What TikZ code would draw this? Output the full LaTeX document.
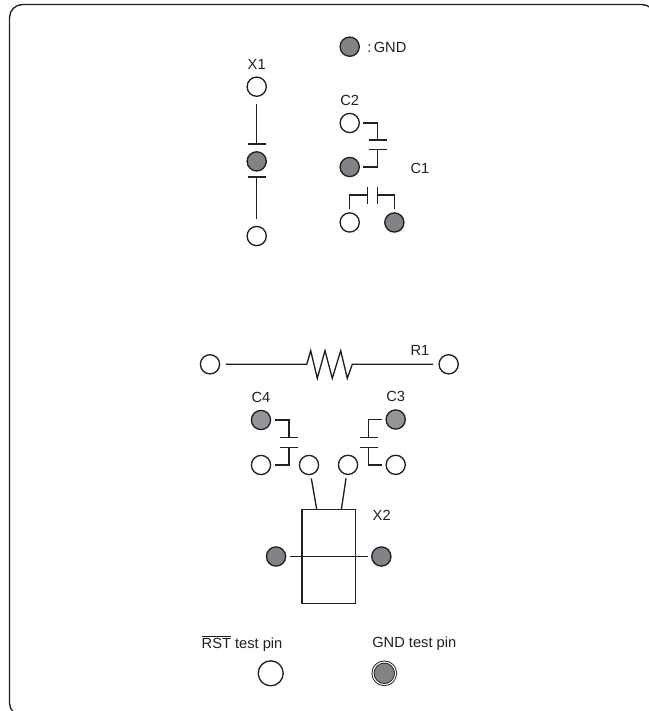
\documentclass[tikz,border=0pt]{standalone}
\usepackage{fontspec}
\setmainfont{Liberation Sans}
\definecolor{pingray}{HTML}{808488}
\definecolor{pinlight}{HTML}{939598}
\definecolor{inkgray}{HTML}{231F20}
\tikzset{%
  % Specifications for style of nodes:
        pin/.style = {circle, draw=inkgray, line width=1pt, fill=white,
                      inner sep=0pt, minimum size=14.4pt, outer sep=3pt},
    gndpin/.style = {pin, fill=pingray},
  lightpin/.style = {pin, fill=pinlight},
      label/.style = {font=\fontsize{11}{13}\selectfont, text=inkgray, inner sep=0pt},
       wire/.style = {draw=inkgray, line width=1pt},
}
\begin{document}
\begin{tikzpicture}[x=0.75pt, y=-0.75pt]
  \useasboundingbox (0,0) rectangle (649,711);
  % outer frame, runs off the page on the right and at the bottom
  \node (frame) [draw=inkgray, line width=1pt, rounded corners=9.75pt, inner sep=0pt,
                 minimum width=484.1pt, minimum height=533.6pt] at (332.25,360.25) {};

  % Specification of nodes (position, etc.)
  \node (legend)  [gndpin] at (349.7,46.7) {};
  \node (legendt) [label, anchor=west] at (367,47) {:\,GND};

  \node (x1top)   [pin] at (256.7,86.7) {};
  \node (x1gnd)   [gndpin, below of=x1top, node distance=56pt] {};
  \node (x1bot)   [pin, below of=x1gnd, node distance=56pt] {};
  \node (x1t)     [label, above of=x1top, node distance=17pt] {X1};

  \node (c2top)   [pin] at (349.7,123) {};
  \node (c2gnd)   [gndpin, below of=c2top, node distance=33pt] {};
  \node (c1a)     [pin, below of=c2gnd, node distance=41.6pt] {};
  \node (c1b)     [gndpin, right of=c1a, node distance=33.5pt] {};
  \node (c2t)     [label, above of=c2top, node distance=17pt] {C2};
  \node (c1t)     [label] at (420,168) {C1};

  \node (r1a)     [pin] at (210,364.3) {};
  \node (r1b)     [pin, right of=r1a, node distance=179pt] {};
  \node (r1t)     [label] at (420,350) {R1};

  \node (c4gnd)   [lightpin] at (261,420) {};
  \node (c4pin)   [pin, below of=c4gnd, node distance=33.75pt] {};
  \node (c3gnd)   [lightpin] at (395.7,419.5) {};
  \node (c3pin)   [pin, below of=c3gnd, node distance=34pt] {};
  \node (c4t)     [label, above of=c4gnd, node distance=17pt] {C4};
  \node (c3t)     [label, above of=c3gnd, node distance=17pt] {C3};

  \node (x2a)     [pin, right of=c4pin, node distance=36pt] {};
  \node (x2b)     [pin, left of=c3pin, node distance=35.75pt] {};
  \node (x2)      [draw=inkgray, line width=1pt, minimum width=40pt, minimum height=70.8pt,
                   inner sep=0pt, outer sep=0pt] at (328.7,556.5) {};
  \node (x2l)     [gndpin, left of=x2, node distance=39.5pt] {};
  \node (x2r)     [gndpin, right of=x2, node distance=39.5pt] {};
  \node (x2t)     [label] at (381.7,515) {X2};

  \node (rstpin)  [pin, minimum size=18.75pt] at (270.7,673.3) {};
  \node (gndtest) [gndpin, minimum size=17pt, double=white, double distance=0.8pt,
                   line width=0.7pt, right of=rstpin, node distance=85.2pt] {};
  \node (rstt)    [label, above of=rstpin, node distance=22.5pt, xshift=-21.5pt] {$\overline{\mbox{RST}}$ test pin};
  \node (gndt)    [label, above of=gndtest, node distance=22.5pt, xshift=22.5pt] {GND test pin};

  % plates of the capacitors and free ends
  \coordinate (x1p)  at (256.7,144);
  \coordinate (x1q)  at (256.7,177);
  \coordinate (c2p)  at (377.5,140);
  \coordinate (c2q)  at (377.5,149.3);
  \coordinate (c1p)  at (367.7,195);
  \coordinate (c1q)  at (377.3,195);
  \coordinate (c4p)  at (289,437.7);
  \coordinate (c4q)  at (289,447.3);
  \coordinate (c3p)  at (368.7,437.7);
  \coordinate (c3q)  at (368.7,447.3);
  \coordinate (x2ta) at ([xshift=-9pt]x2.north);
  \coordinate (x2tb) at ([xshift=9.5pt]x2.north);

  \draw[wire, shorten <=2.5pt]  (x1top) -- (x1p);
  \draw[wire, shorten >=2.5pt]  (x1q) -- (x1bot);
  \draw[wire] (x1p)++(-9.2,0) -- ++(18.4,0);
  \draw[wire] (x1q)++(-9.2,0) -- ++(18.4,0);

  \draw[wire] (c2top) -| (c2p);
  \draw[wire] (c2gnd) -| (c2q);
  \draw[wire] (c2p)++(-9,0) -- ++(18,0);
  \draw[wire] (c2q)++(-9,0) -- ++(18,0);

  \draw[wire] (c1a) |- (c1p);
  \draw[wire] (c1b) |- (c1q);
  \draw[wire] (c1p)++(0,-8.5) -- ++(0,17);
  \draw[wire] (c1q)++(0,-8.5) -- ++(0,17);

  \draw[wire, shorten <=1.5pt, shorten >=1.5pt] (r1a) -- (306.7,364.3) -- (310.7,350.7) -- (317.3,378.3)
     -- (325,350.7) -- (332.3,378.3) -- (340.7,350.7) -- (347.3,378.3) -- (352.3,364.3) -- (r1b);

  \draw[wire] (c4gnd) -| (c4p);
  \draw[wire] (c4pin) -| (c4q);
  \draw[wire] (c4p)++(-9,0) -- ++(18,0);
  \draw[wire] (c4q)++(-9,0) -- ++(18,0);

  \draw[wire] (c3gnd) -| (c3p);
  \draw[wire] (c3pin) -| (c3q);
  \draw[wire] (c3p)++(-9,0) -- ++(18,0);
  \draw[wire] (c3q)++(-9,0) -- ++(18,0);

  \draw[wire] (x2a) -- (x2ta);
  \draw[wire] (x2b) -- (x2tb);
  \draw[wire] (x2l) -- (x2r);
\end{tikzpicture}
\end{document}
